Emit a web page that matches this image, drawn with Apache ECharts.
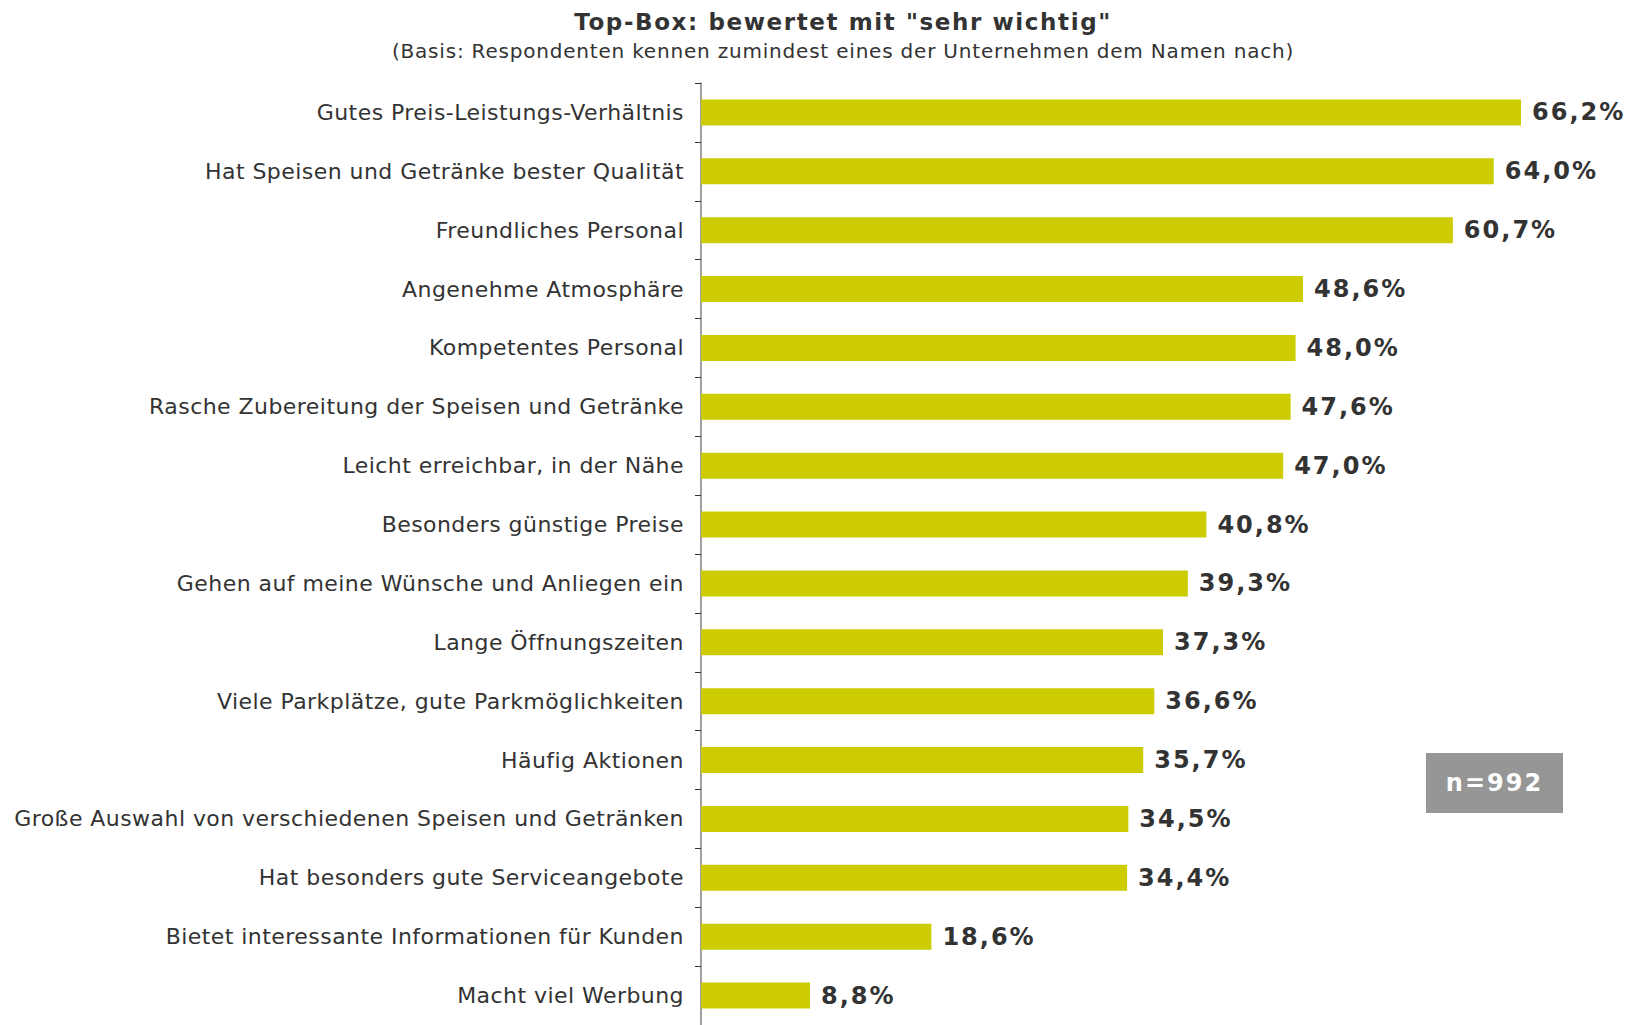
<!DOCTYPE html>
<html>
<head>
<meta charset="utf-8">
<script src="https://cdn.jsdelivr.net/npm/echarts@6/dist/echarts.min.js"></script>
<style>
  html, body { margin: 0; padding: 0; background: #fff; }
  #chart { width: 1632px; height: 1025px; }
  /* Die Vorlage hat eine gesperrte Schrift */
  #chart text { letter-spacing: 0.45px; }
  #chart text[style*="bold"] { letter-spacing: 1.6px; }
  #chart text[style*="bold"][style*="24px"] { letter-spacing: 2px; }
  #chart text[style*="20px"] { letter-spacing: 0.8px; }
</style>
</head>
<body>
<div id="chart"></div>
<script>
// Kategorien (von oben nach unten)
var categories = [
  'Gutes Preis-Leistungs-Verhältnis',
  'Hat Speisen und Getränke bester Qualität',
  'Freundliches Personal',
  'Angenehme Atmosphäre',
  'Kompetentes Personal',
  'Rasche Zubereitung der Speisen und Getränke',
  'Leicht erreichbar, in der Nähe',
  'Besonders günstige Preise',
  'Gehen auf meine Wünsche und Anliegen ein',
  'Lange Öffnungszeiten',
  'Viele Parkplätze, gute Parkmöglichkeiten',
  'Häufig Aktionen',
  'Große Auswahl von verschiedenen Speisen und Getränken',
  'Hat besonders gute Serviceangebote',
  'Bietet interessante Informationen für Kunden',
  'Macht viel Werbung'
]
var topBox = [66.2, 64.0, 60.7, 48.6, 48.0, 47.6, 47.0, 40.8, 39.3, 37.3, 36.6, 35.7, 34.5, 34.4, 18.6, 8.8]
var sampleSize = 'n=992'

var chart = echarts.init(document.getElementById('chart'), null, { renderer: 'svg' })

chart.setOption({
  animation: false,
  title: [{
    text: 'Top-Box: bewertet mit "sehr wichtig"',
    left: 838,
    top: 5,
    textAlign: 'center',
    textStyle: { fontFamily: 'DejaVu Sans', fontSize: 23, fontWeight: 'bold', color: '#333' }
  }, {
    text: '(Basis: Respondenten kennen zumindest eines der Unternehmen dem Namen nach)',
    left: 838,
    top: 36,
    textAlign: 'center',
    textStyle: { fontFamily: 'DejaVu Sans', fontSize: 20, fontWeight: 'normal', color: '#333' }
  }],
  grid: {
    left: 701,
    top: 83,
    width: 929,
    height: 946,
    containLabel: false
  },
  xAxis: {
    type: 'value',
    min: 0,
    max: 75,
    show: false
  },
  yAxis: {
    type: 'category',
    data: categories,
    inverse: true,
    axisLine: { show: true, lineStyle: { color: '#808080', width: 1.5 } },
    axisTick: { show: true, length: 6, lineStyle: { color: '#333' } },
    axisLabel: {
      margin: 17,
      fontFamily: 'DejaVu Sans',
      fontSize: 22,
      color: '#333'
    }
  },
  series: [{
    type: 'bar',
    data: topBox,
    barWidth: '44%',
    itemStyle: { color: '#cccc00' },
    label: {
      show: true,
      position: 'right',
      distance: 11,
      fontFamily: 'DejaVu Sans',
      fontSize: 24,
      fontWeight: 'bold',
      color: '#333',
      formatter: function (p) {
        return p.value.toFixed(1).replace('.', ',') + '%'
      }
    }
  }],
  graphic: [{
    type: 'group',
    left: 1426,
    top: 753,
    children: [{
      type: 'rect',
      shape: { x: 0, y: 0, width: 137, height: 60 },
      style: { fill: '#969696' }
    }, {
      type: 'text',
      x: 68.5,
      y: 30,
      style: {
        text: sampleSize,
        fill: '#fff',
        font: 'bold 24px "DejaVu Sans"',
        align: 'center',
        verticalAlign: 'middle'
      }
    }]
  }]
})
</script>
</body>
</html>
